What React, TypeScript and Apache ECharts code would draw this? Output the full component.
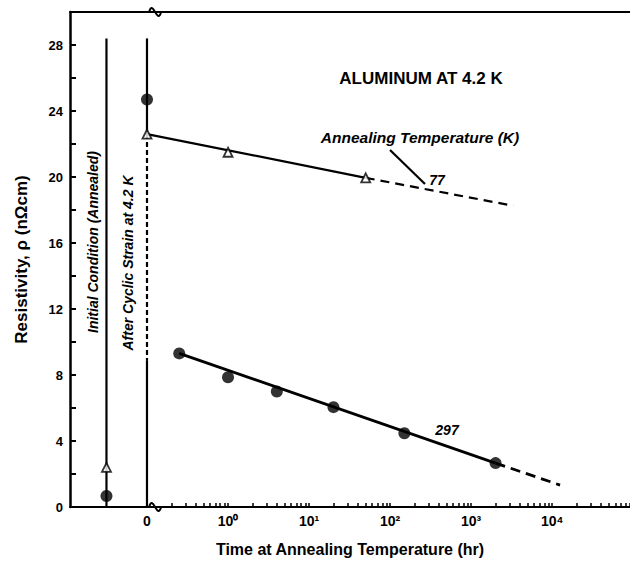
import React, { useEffect, useRef } from "react";
import * as echarts from "echarts";

// ---- data (times in hours, resistivity in nΩcm) ----
const INITIAL_POS = -1.5; // axis position of the "Initial Condition" column
const STRAINED_POS = -1.0; // axis position of the "0" (after strain) column
const xTickPositions = [-1, 0, 1, 2, 3, 4];
const xTickLabels = ["0", "10⁰", "10¹", "10²", "10³", "10⁴"];
const yLabelValues = [0, 4, 8, 12, 16, 20, 24, 28];

const initialTriangle = [2.4];
const initialCircle = [0.67];
const strainedCircle = [24.7];
const strainedTriangle = [22.6];
const columnTop = 28.4;
const strainedDashBottom = 8.9;

const hours77 = [1, 50];
const rho77 = [21.5, 19.95];
const ext77Hours = [50, 3300];
const ext77Rho = [19.95, 18.26];

const hours297 = [0.25, 1, 4, 20, 150, 2000];
const rho297 = [9.31, 7.86, 7.0, 6.05, 4.47, 2.66];
const fit297Hours = [0.25, 2000];
const fit297Rho = [9.31, 2.66];
const ext297Hours = [2000, 12500];
const ext297Rho = [2.66, 1.33];

const lg = (h: number) => Math.log10(h);
const INK = "#000";
const FONT = "'Liberation Sans Narrow', 'Liberation Sans', Arial, sans-serif";
const FONT2 = "'Liberation Sans', Arial, sans-serif";

export default function App() {
  const ref = useRef<HTMLDivElement>(null);
  useEffect(() => {
    document.body.style.margin = "0";
    const chart = echarts.init(ref.current!, null, { renderer: "svg" });
    const minorTicks: number[] = [];
    for (let k = -1; k <= 4; k++) {
      for (let m = 1; m <= 9; m++) {
        if (k === -1 && m === 1) continue;
        minorTicks.push(k + Math.log10(m));
      }
    }
    const xMin = -1.95;
    const xMax = 4.96;
    const lineStyle = { color: INK, width: 2.2 };
    const option: any = {
      animation: false,
      backgroundColor: "#fff",
      grid: { left: 70, right: 0, top: 12, bottom: 55, containLabel: false },
      xAxis: [
        {
          type: "value",
          min: xMin,
          max: xMax,
          axisLine: { onZero: false, lineStyle: { color: INK, width: 2 } },
          axisTick: {
            inside: true,
            length: 4,
            customValues: minorTicks,
            lineStyle: { color: INK, width: 1.5 },
          },
          axisLabel: {
            customValues: xTickPositions,
            formatter: (v: number) => {
              const i = xTickPositions.findIndex((p) => Math.abs(p - v) < 1e-6);
              return i >= 0 ? xTickLabels[i] : "";
            },
            color: INK,
            fontFamily: FONT,
            fontWeight: "bold",
            fontSize: 14,
            margin: 7,
          },
          splitLine: { show: false },
          name: "Time at Annealing Temperature (hr)",
          nameLocation: "middle",
          nameGap: 34,
          nameTextStyle: { color: INK, fontFamily: FONT, fontWeight: "bold", fontSize: 16 },
        },
        {
          type: "value",
          position: "top",
          min: xMin,
          max: xMax,
          axisLine: { onZero: false, lineStyle: { color: INK, width: 2 } },
          axisTick: { show: false },
          axisLabel: { show: false },
          splitLine: { show: false },
        },
      ],
      yAxis: {
        type: "value",
        min: 0,
        max: 30,
        interval: 2,
        axisLine: { show: true, onZero: false, lineStyle: { color: INK, width: 2.5 } },
        axisTick: { inside: true, length: 6, lineStyle: { color: INK, width: 2 } },
        axisLabel: {
          formatter: (v: number) => {
            const r = Math.round(v);
            return yLabelValues.includes(r) ? String(r) : "";
          },
          color: INK,
          fontFamily: FONT,
          fontWeight: "bold",
          fontSize: 13,
          margin: 7,
        },
        splitLine: { show: false },
        name: "Resistivity, ρ (nΩcm)",
        nameLocation: "middle",
        nameGap: 40,
        nameTextStyle: { color: INK, fontFamily: FONT, fontWeight: "bold", fontSize: 17 },
      },
      series: [
        {
          type: "line",
          data: [[INITIAL_POS, 0], [INITIAL_POS, columnTop]],
          showSymbol: false,
          lineStyle,
        },
        {
          type: "line",
          data: [[STRAINED_POS, columnTop], [STRAINED_POS, strainedTriangle[0]]],
          showSymbol: false,
          lineStyle,
        },
        {
          type: "line",
          data: [[STRAINED_POS, strainedTriangle[0]], [STRAINED_POS, strainedDashBottom]],
          showSymbol: false,
          lineStyle: { ...lineStyle, type: [5, 3] },
        },
        {
          type: "line",
          data: [[STRAINED_POS, strainedDashBottom], [STRAINED_POS, 0]],
          showSymbol: false,
          lineStyle,
        },
        {
          type: "line",
          data: [[STRAINED_POS, strainedTriangle[0]], [lg(hours77[1]), rho77[1]]],
          showSymbol: false,
          lineStyle,
        },
        {
          type: "line",
          data: ext77Hours.map((h, i) => [lg(h), ext77Rho[i]]),
          showSymbol: false,
          lineStyle: { ...lineStyle, type: [9, 6] },
        },
        {
          type: "line",
          data: fit297Hours.map((h, i) => [lg(h), fit297Rho[i]]),
          showSymbol: false,
          lineStyle: { ...lineStyle, width: 2.8 },
        },
        {
          type: "line",
          data: ext297Hours.map((h, i) => [lg(h), ext297Rho[i]]),
          showSymbol: false,
          lineStyle: { ...lineStyle, width: 2.8, type: [10, 6] },
        },
        {
          type: "scatter",
          symbol: "triangle",
          symbolSize: 9,
          itemStyle: { color: "#fff", borderColor: INK, borderWidth: 1.8 },
          data: [
            [INITIAL_POS, initialTriangle[0]],
            [STRAINED_POS, strainedTriangle[0]],
            ...hours77.map((h, i) => [lg(h), rho77[i]]),
          ],
          z: 5,
        },
        {
          type: "scatter",
          symbol: "circle",
          symbolSize: 12,
          itemStyle: { color: INK },
          data: [
            [INITIAL_POS, initialCircle[0]],
            [STRAINED_POS, strainedCircle[0]],
            ...hours297.map((h, i) => [lg(h), rho297[i]]),
          ],
          z: 5,
        },
      ],
    };
    chart.setOption(option);

    const breakX = chart.convertToPixel({ xAxisIndex: 0 }, -0.9);
    const topY = chart.convertToPixel({ yAxisIndex: 0 }, 30);
    const botY = chart.convertToPixel({ yAxisIndex: 0 }, 0);
    const squiggle = (y: number) => ({
      type: "bezierCurve",
      shape: { x1: breakX - 6, y1: y, x2: breakX + 6, y2: y, cpx1: breakX - 2, cpy1: y - 14, cpx2: breakX + 2, cpy2: y + 14 },
      style: { stroke: INK, lineWidth: 2, fill: null },
    });
    const txt = (text: string, x: number, y: number, size: number, extra: any = {}) => ({
      type: "text",
      x,
      y,
      rotation: extra.rotation || 0,
      style: {
        text,
        fill: INK,
        font: `${extra.italic ? "italic " : ""}bold ${size}px ${extra.family || FONT2}`,
        textAlign: "center",
        textVerticalAlign: "middle",
      },
    });
    chart.setOption({
      graphic: [
        { type: "rect", shape: { x: breakX - 5, y: topY - 2, width: 10, height: 4 }, style: { fill: "#fff" } },
        { type: "rect", shape: { x: breakX - 5, y: botY - 2, width: 10, height: 4 }, style: { fill: "#fff" } },
        squiggle(topY),
        squiggle(botY),
        txt("ALUMINUM AT 4.2 K", 421, 78, 17, { family: FONT }),
        txt("Annealing Temperature (K)", 420, 137, 15.5, { italic: true }),
        txt("77", 437, 180, 14, { italic: true }),
        txt("297", 447, 430, 14, { italic: true }),
        {
          type: "line",
          shape: { x1: 390, y1: 150, x2: 425, y2: 184 },
          style: { stroke: INK, lineWidth: 2.2 },
        },
        txt("Initial Condition (Annealed)", 93, 242, 14, { italic: true, rotation: Math.PI / 2 }),
        txt("After Cyclic Strain at 4.2 K", 128, 263, 14, { italic: true, rotation: Math.PI / 2 }),
      ],
    });
    return () => chart.dispose();
  }, []);
  return <div ref={ref} style={{ width: 630, height: 562 }} />;
}
